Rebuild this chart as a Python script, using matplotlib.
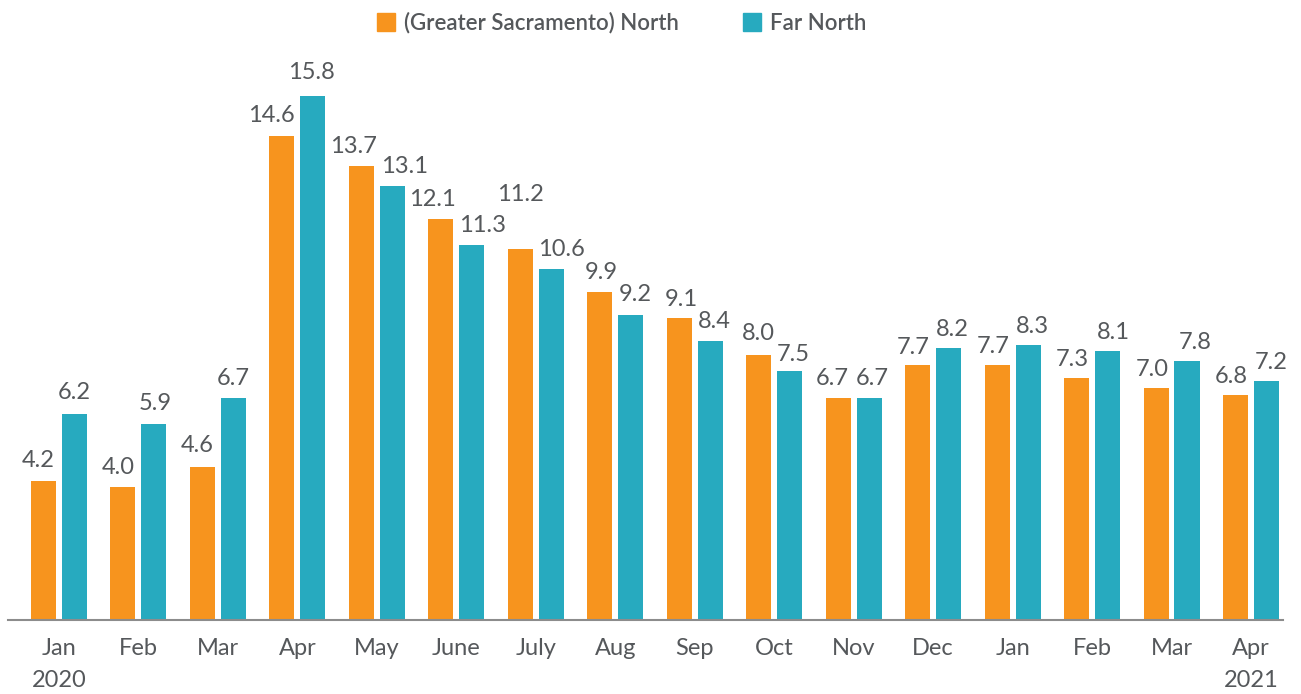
import matplotlib
matplotlib.use("Agg")
import matplotlib.pyplot as plt
from matplotlib.patches import Patch
import numpy as np

months = ["Jan\n2020", "Feb", "Mar", "Apr", "May", "June", "July", "Aug", "Sep",
          "Oct", "Nov", "Dec", "Jan", "Feb", "Mar", "Apr\n2021"]
sacramento_north = [4.2, 4.0, 4.6, 14.6, 13.7, 12.1, 11.2, 9.9, 9.1, 8.0, 6.7, 7.7, 7.7, 7.3, 7.0, 6.8]
far_north = [6.2, 5.9, 6.7, 15.8, 13.1, 11.3, 10.6, 9.2, 8.4, 7.5, 6.7, 8.2, 8.3, 8.1, 7.8, 7.2]
series_names = ["(Greater Sacramento) North", "Far North"]

ORANGE = "#F7941E"
TEAL = "#27AABF"
TEXT = "#55585B"

plt.rcParams["font.family"] = ["Lato", "DejaVu Sans"]

W, H = 1301, 694
fig = plt.figure(figsize=(W / 100, H / 100), dpi=100)
ax = fig.add_axes([8 / W, (H - 620) / H, 1275 / W, (620 - 60) / H])

x = np.arange(len(months))
bw = 0.315
off = 0.195
b1 = ax.bar(x - off, sacramento_north, bw, color=ORANGE)
b2 = ax.bar(x + off, far_north, bw, color=TEAL)

ax.set_xlim(-0.642, 15.403)
ax.set_ylim(0, 16.89)

# value-label placement nudges in pixels, mimicking the original layout
dx_orange = [-5, -5, -5, -11, -8, -8, 0, 2, 2, 0, -6, -4, -4, -4, -4, -4]
dx_teal = [0, 1, 0, -2, 12, 11, 10, 4, 4, 4, 3, 4, 4, 6, 8, 5]
lift_orange = [14, 13, 15, 14, 13, 13, 48, 13, 12, 15, 13, 11, 12, 12, 12, 12]
lift_teal = [15, 14, 13, 17, 13, 13, 13, 14, 13, 10, 13, 12, 12, 12, 12, 12]

fs_val = 17
for bars, vals, dxs, lifts in [(b1, sacramento_north, dx_orange, lift_orange),
                               (b2, far_north, dx_teal, lift_teal)]:
    for b, v, dx, lift in zip(bars, vals, dxs, lifts):
        ax.annotate(f"{v:.1f}", (b.get_x() + b.get_width() / 2, v),
                    xytext=(dx * 0.72, lift * 0.72), textcoords="offset points",
                    ha="center", va="baseline", fontsize=fs_val, color=TEXT)

for s in ["top", "right", "left"]:
    ax.spines[s].set_visible(False)
ax.spines["bottom"].set_color("#8C8C8C")
ax.spines["bottom"].set_linewidth(1.5)
ax.set_yticks([])
ax.set_xticks(x)
ax.set_xticklabels(months, fontsize=17, color=TEXT, linespacing=1.65)
ax.tick_params(axis="x", length=0, pad=13)

handles = [Patch(color=ORANGE), Patch(color=TEAL)]
leg = fig.legend(handles, series_names, loc="center", bbox_to_anchor=(622 / W, 1 - 23 / H),
                 ncol=2, frameon=False, handlelength=0.81, handleheight=0.85,
                 handletextpad=0.4, columnspacing=2.9,
                 prop={"weight": "semibold", "size": 16})
for t in leg.get_texts():
    t.set_color(TEXT)

fig.savefig("out.png", dpi=100)
